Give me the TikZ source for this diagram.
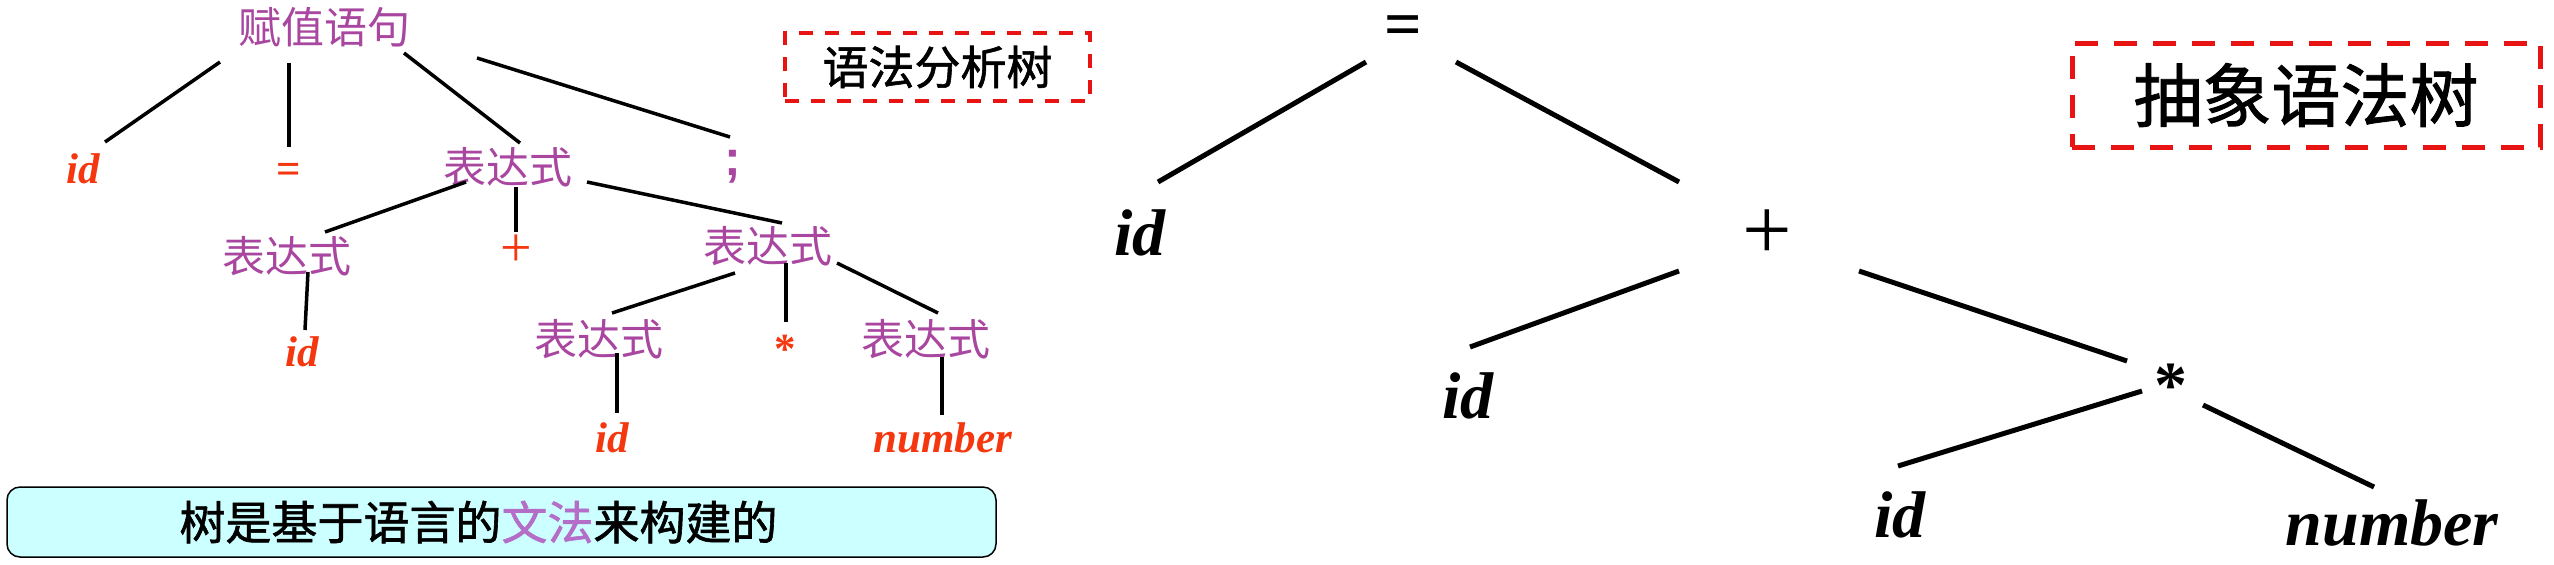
\documentclass[tikz,border=0pt]{standalone}
\usepackage{fontspec}
\setmainfont{Liberation Serif}
\newfontfamily\cjk{Noto Sans CJK SC}
\newfontfamily\cjkheavy[FakeBold=1.3]{Noto Sans CJK SC}
\newfontfamily\sansfnt{Liberation Sans}
\definecolor{synpurple}{RGB}{168,70,160}
\definecolor{tokred}{RGB}{245,55,15}
\definecolor{boxred}{RGB}{232,20,20}
\definecolor{notecyan}{RGB}{204,255,255}
\definecolor{lightpurple}{RGB}{180,110,200}
\tikzset{
  syn/.style={text=synpurple,font=\cjk\fontsize{21.5}{24}\selectfont,text height=17.2pt,text depth=2.15pt,inner sep=3pt},
  tok/.style={text=tokred,font=\bfseries\itshape\fontsize{21.5}{24}\selectfont,text height=17.2pt,text depth=2.15pt,inner sep=3pt},
  op/.style={text=tokred,font=\fontsize{21.5}{24}\selectfont,text height=17.2pt,text depth=2.15pt,inner sep=3pt},
  ast/.style={font=\bfseries\itshape\fontsize{33}{36}\selectfont,text height=26.4pt,text depth=3.3pt,inner sep=3pt},
  astop/.style={font=\fontsize{33}{36}\selectfont,text height=26.4pt,text depth=3.3pt,inner sep=3pt},
  edge/.style={line width=1.75pt},
  bigedge/.style={line width=2.5pt},
  titlebox/.style={draw=boxred,line width=1.75pt,dash pattern=on 7pt off 6pt,font=\cjkheavy\fontsize{23}{26}\selectfont,minimum width=152.5pt,minimum height=34pt},
  bigtitle/.style={draw=boxred,line width=2.5pt,dash pattern=on 11.5pt off 8pt,font=\cjkheavy\fontsize{34.5}{38}\selectfont,minimum width=234pt,minimum height=52pt},
  notebox/.style={draw,line width=0.75pt,fill=notecyan,rounded corners=6.5pt,minimum width=494.5pt,minimum height=35pt}
}
\begin{document}
\begin{tikzpicture}[x=0.5pt,y=-0.5pt]
\useasboundingbox (0,0) rectangle (2554,564);
% parse tree
\node[syn] (root) at (324,28) {赋值语句};
\node[tok] (id1) at (83,168) {id};
\node[op] (eq) at (289,168) {\textbf{=}};
\node[syn] (e1) at (508,168) {表达式};
\node[syn,font=\sansfnt\bfseries\fontsize{25}{28}\selectfont] (semi) at (733,160) {;};
\node[syn] (e2) at (287,257) {表达式};
\node[op,font=\fontsize{28}{30}\selectfont] (plus) at (516,251) {+};
\node[syn] (e3) at (768,247) {表达式};
\node[tok] (id2) at (302,351) {id};
\node[syn] (e4) at (599,340) {表达式};
\node[op] (star) at (785,348) {\textbf{*}};
\node[syn] (e5) at (926,340) {表达式};
\node[tok] (id3) at (612,437) {id};
\node[tok] (num) at (943,437) {number};
\draw[edge] ([shift={(-104,34)}]root.center) -- ([shift={(22,-26)}]id1.center);
\draw[edge] ([shift={(-35,35)}]root.center) -- ([shift={(0,-21)}]eq.center);
\draw[edge] ([shift={(80,25)}]root.center) -- ([shift={(12,-25)}]e1.center);
\draw[edge] ([shift={(153,30)}]root.center) -- ([shift={(-3,-23)}]semi.center);
\draw[edge] ([shift={(-42,14)}]e1.center) -- ([shift={(38,-25)}]e2.center);
\draw[edge] ([shift={(8,19)}]e1.center) -- ([shift={(0,-19)}]plus.center);
\draw[edge] ([shift={(79,14)}]e1.center) -- ([shift={(14,-24)}]e3.center);
\draw[edge] ([shift={(21,15)}]e2.center) -- ([shift={(3,-21)}]id2.center);
\draw[edge] ([shift={(-33,26)}]e3.center) -- ([shift={(13,-27)}]e4.center);
\draw[edge] ([shift={(18,16)}]e3.center) -- ([shift={(1,-26)}]star.center);
\draw[edge] ([shift={(69,16)}]e3.center) -- ([shift={(12,-27)}]e5.center);
\draw[edge] ([shift={(18,13)}]e4.center) -- ([shift={(5,-24)}]id3.center);
\draw[edge] ([shift={(16,17)}]e5.center) -- ([shift={(-1,-22)}]num.center);
\node[titlebox] (ptitle) at (937.5,67) {语法分析树};
\node[notebox] (note) at (501.5,522) {};
\node[font=\cjkheavy\fontsize{23}{26}\selectfont] (notetext) at ([xshift=-11.5pt]note.center) {树是基于语言的\textcolor{lightpurple}{文法}来构建的};
% abstract syntax tree
\node[astop,text height=12pt] (req) at (1403,38) {\textbf{=}};
\node[ast] (rid1) at (1140,232) {id};
\node[astop,font=\fontsize{44}{46}\selectfont] (rplus) at (1767,236) {+};
\node[ast] (rid2) at (1468,395) {id};
\node[astop] (rstar) at (2171,384) {\textbf{*}};
\node[ast] (rid3) at (1900,514) {id};
\node[ast] (rnum) at (2392,522) {number};
\draw[bigedge] ([shift={(-37,24)}]req.center) -- ([shift={(18,-50)}]rid1.center);
\draw[bigedge] ([shift={(53,24)}]req.center) -- ([shift={(-88,-54)}]rplus.center);
\draw[bigedge] ([shift={(-88,35)}]rplus.center) -- ([shift={(2,-48)}]rid2.center);
\draw[bigedge] ([shift={(92,35)}]rplus.center) -- ([shift={(-44,-23)}]rstar.center);
\draw[bigedge] ([shift={(-29,7)}]rstar.center) -- ([shift={(-2,-48)}]rid3.center);
\draw[bigedge] ([shift={(32,21)}]rstar.center) -- ([shift={(-18,-35)}]rnum.center);
\node[bigtitle] (atitle) at (2306,95) {抽象语法树};
\end{tikzpicture}
\end{document}
